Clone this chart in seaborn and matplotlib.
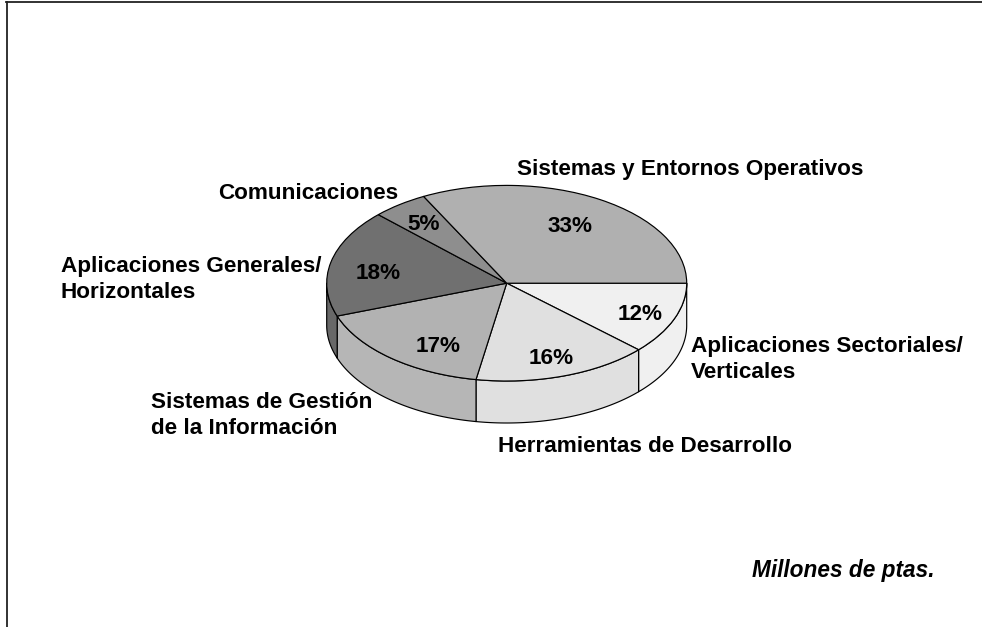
import numpy as np
import matplotlib
matplotlib.use("Agg")
import matplotlib.pyplot as plt
import seaborn as sns

# Data (clockwise from the 3 o'clock position)
categories = ["Aplicaciones Sectoriales/\nVerticales", "Herramientas de Desarrollo",
              "Sistemas de Gestión\nde la Información", "Aplicaciones Generales/\nHorizontales",
              "Comunicaciones", "Sistemas y Entornos Operativos"]
shares = [11.9, 15.8, 16.8, 17.8, 5.0, 32.6]
pct_labels = ["12%", "16%", "17%", "18%", "5%", "33%"]
top_colors = ["#f0f0f0", "#e0e0e0", "#b2b2b2", "#707070", "#8e8e8e", "#b0b0b0"]
wall_colors = ["#f0f0f0", "#e0e0e0", "#b6b6b6", "#686868", "#8e8e8e", "#b0b0b0"]
note = "Millones de ptas."

# Layout (pixels)
W, H = 982, 627
cx, cy, rx, ry, depth = 506.7, 283.2, 180.0, 97.8, 42.0
frame_l, frame_t = 6.5, 1.5
name_pos = [(691, 352), (498, 452), (151, 408), (61, 272), (218, 199), (517, 175)]
pct_pos = [(640, 315), (551, 358), (438, 346), (378, 273.5), (424, 225), (570, 226.5)]
line_step = 25.8
name_size = 16.2

sns.set_theme(style="white")
plt.rcParams["font.family"] = ["Liberation Sans", "DejaVu Sans"]

fig = plt.figure(figsize=(W / 100, H / 100), dpi=100, facecolor="white")
ax = fig.add_axes([frame_l / W, 0, (W - frame_l) / W, (H - frame_t) / H])

wedges, _ = ax.pie(shares, colors=sns.color_palette(top_colors), startangle=0, counterclock=False,
                   radius=1.0, wedgeprops=dict(edgecolor="black", linewidth=0.85, zorder=3))

# Squash the circle into the tilted ellipse: unit radius = rx px across, ry px up
ax.set_aspect("auto")
ax.set_xlim((frame_l - cx) / rx, (W - cx) / rx)
ax.set_ylim((cy - H) / ry, (cy - frame_t) / ry)
ax.set_xticks([])
ax.set_yticks([])
ax.set_frame_on(True)
for side, vis in dict(left=True, top=True, right=False, bottom=False).items():
    ax.spines[side].set_visible(vis)
    ax.spines[side].set_color("#222222")
    ax.spines[side].set_linewidth(1.3)

# Side wall of the front half, from the same cumulative shares
edges = np.concatenate([[0], np.cumsum(shares)]) / np.sum(shares) * 2 * np.pi
drop = depth / ry
for start, stop, col in zip(edges[:-1], edges[1:], wall_colors):
    a, b = start, min(stop, np.pi)
    if a >= np.pi:
        continue
    t = np.linspace(a, b, 80)
    xs = np.concatenate([np.cos(t), np.cos(t[::-1])])
    ys = np.concatenate([-np.sin(t), -np.sin(t[::-1]) - drop])
    ax.fill(xs, ys, facecolor=col, edgecolor="black", linewidth=0.85, zorder=2, joinstyle="round")


def px(x, y):
    return x / W, 1 - y / H


for name, (x, y) in zip(categories, name_pos):
    for i, line in enumerate(name.split("\n")):
        fx, fy = px(x, y + i * line_step)
        fig.text(fx, fy, line, fontsize=name_size, fontweight="bold", color="black",
                 ha="left", va="baseline")

for label, (x, y) in zip(pct_labels, pct_pos):
    fx, fy = px(x, y)
    fig.text(fx, fy, label, fontsize=name_size, fontweight="bold", color="black",
             ha="center", va="center")

fx, fy = px(752, 577)
fig.text(fx, fy, note, fontsize=16.3, fontweight="bold", fontstyle="italic", color="black",
         ha="left", va="baseline")

fig.savefig("out.png", dpi=100, facecolor="white")
